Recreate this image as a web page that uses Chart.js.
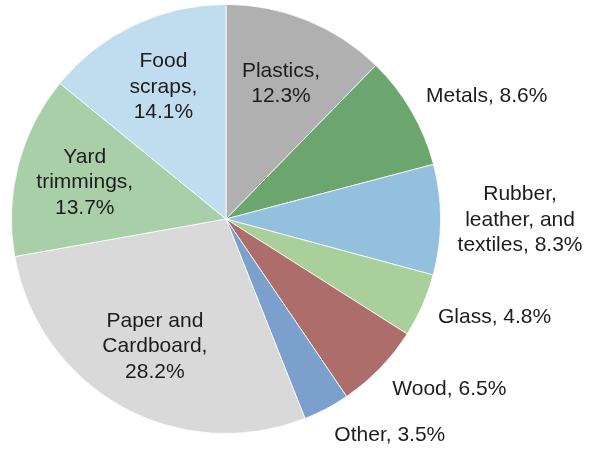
<!DOCTYPE html>
<html lang="en">
  <head>
    <meta charset="UTF-8" />
    <title>Waste composition</title>
    <script src="https://cdn.jsdelivr.net/npm/chart.js"></script>
    <style>
      body {
        margin: 0;
        background: #ffffff;
      }
      #wasteChart {
        display: block;
      }
    </style>
  </head>
  <body>
    <canvas id="wasteChart" width="590" height="449"></canvas>

    <script>
      // categories clockwise from 12 o'clock; "\n" marks where the label wraps
      const categories = [
        "Plastics",
        "Metals",
        "Rubber,\nleather, and\ntextiles",
        "Glass",
        "Wood",
        "Other",
        "Paper and\nCardboard",
        "Yard\ntrimmings",
        "Food\nscraps",
      ];
      const shares = [12.3, 8.6, 8.3, 4.8, 6.5, 3.5, 28.2, 13.7, 14.1];
      const sliceColors = [
        "#b0b0b0",
        "#6aa66e",
        "#93c0dc",
        "#a9d09a",
        "#ad6d6b",
        "#7aa0cb",
        "#d9d9d9",
        "#a9cfa9",
        "#c0dcef",
      ];

      const FONT = "21px 'Liberation Sans', Arial, sans-serif";
      const LINE_H = 25.5;

      function labelLines(i) {
        const lines = categories[i].split("\n");
        const last = lines.length - 1;
        if (shares[i] >= 10) {
          lines[last] += ",";
          lines.push(shares[i].toFixed(1) + "%");
        } else {
          lines[last] += ", " + shares[i].toFixed(1) + "%";
        }
        return lines;
      }

      const sliceLabels = {
        id: "sliceLabels",
        afterDatasetsDraw(chart) {
          const ctx = chart.ctx;
          const arcs = chart.getDatasetMeta(0).data;
          ctx.save();
          ctx.font = FONT;
          ctx.fillStyle = "#1c1c1c";
          ctx.textBaseline = "middle";
          arcs.forEach((arc, i) => {
            const lines = labelLines(i);
            const mid = (arc.startAngle + arc.endAngle) / 2;
            const dx = Math.cos(mid);
            const dy = Math.sin(mid);
            const r = arc.outerRadius;
            const h = lines.length * LINE_H;
            let cx, cy;
            if (shares[i] >= 10) {
              ctx.textAlign = "center";
              cx = arc.x + dx * r * 0.68;
              cy = arc.y + dy * r * 0.68;
            } else {
              const w = Math.max(...lines.map((l) => ctx.measureText(l).width));
              const px = arc.x + dx * (r + 17);
              const py = arc.y + dy * (r + 17);
              ctx.textAlign = "center";
              cx = px + w / 2 + (dx < 0 ? -w : 0);
              cy = py + dy * h / 2;
            }
            lines.forEach((line, k) => {
              ctx.fillText(line, cx, cy - h / 2 + LINE_H * (k + 0.5));
            });
          });
          ctx.restore();
        },
      };

      new Chart(document.getElementById("wasteChart"), {
        type: "pie",
        data: {
          labels: categories.map((c) => c.replace(/\n/g, " ")),
          datasets: [
            {
              data: shares,
              backgroundColor: sliceColors,
              borderColor: "#ffffff",
              borderWidth: 0.8,
            },
          ],
        },
        options: {
          responsive: false,
          animation: false,
          layout: {
            padding: { left: 11, right: 149, top: 4, bottom: 15 },
          },
          plugins: {
            legend: { display: false },
            tooltip: { enabled: false },
          },
        },
        plugins: [sliceLabels],
      });
    </script>
  </body>
</html>
